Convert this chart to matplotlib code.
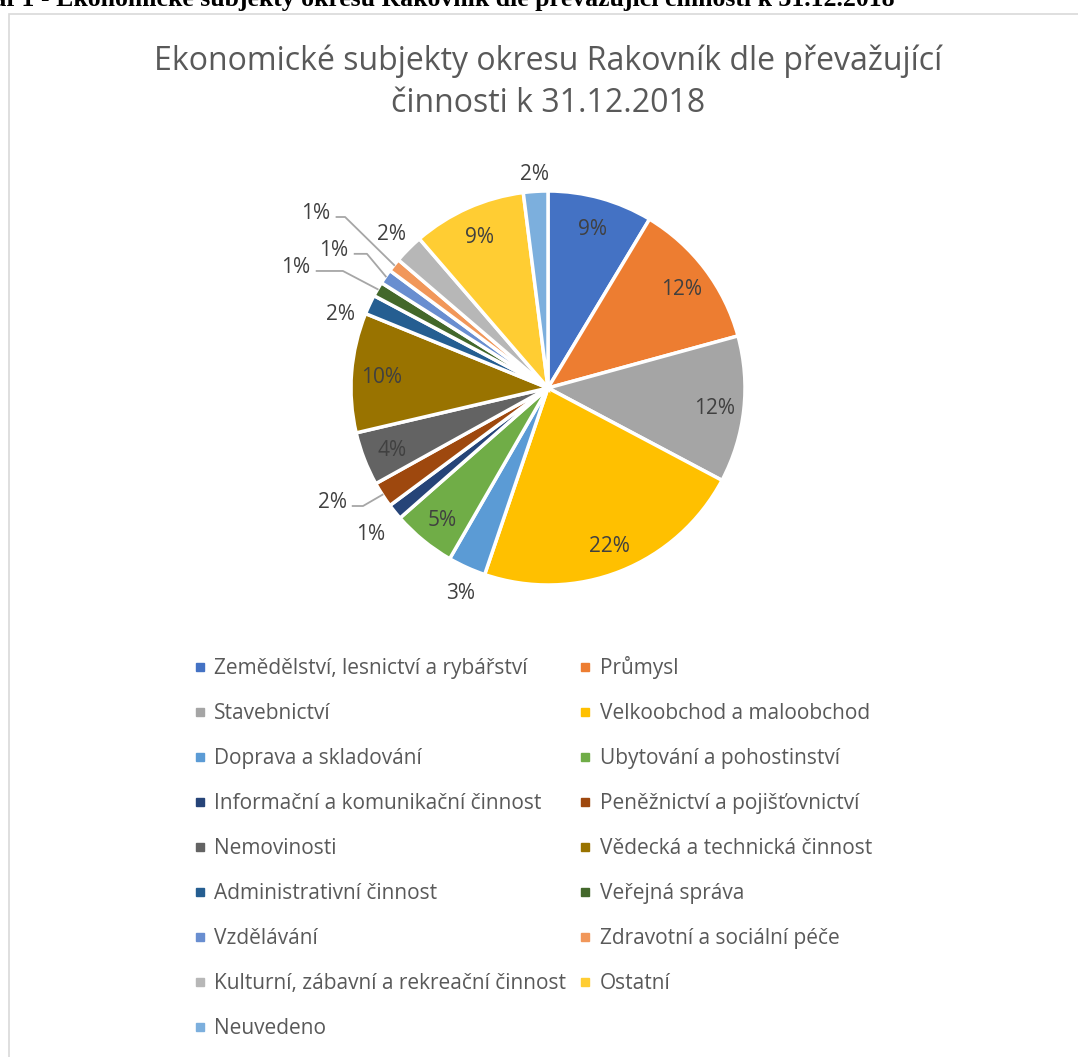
import matplotlib
matplotlib.use("Agg")
import matplotlib.pyplot as plt
from matplotlib.patches import Rectangle
from matplotlib.lines import Line2D
import numpy as np

W, H = 1078, 1057
DPI = 100

categories = [
    "Zemědělství, lesnictví a rybářství", "Průmysl", "Stavebnictví",
    "Velkoobchod a maloobchod", "Doprava a skladování", "Ubytování a pohostinství",
    "Informační a komunikační činnost", "Peněžnictví a pojišťovnictví", "Nemovinosti",
    "Vědecká a technická činnost", "Administrativní činnost", "Veřejná správa",
    "Vzdělávání", "Zdravotní a sociální péče", "Kulturní, zábavní a rekreační činnost",
    "Ostatní", "Neuvedeno",
]
shares = [8.6, 12.1, 12.0, 22.4, 3.1, 5.2, 1.3, 2.1, 4.4, 9.8, 1.6, 1.2, 1.2, 1.1, 2.4, 9.3, 2.0]
colors = ["#4472C4", "#ED7D31", "#A5A5A5", "#FFC000", "#5B9BD5", "#70AD47",
          "#264478", "#9E480E", "#636363", "#997300", "#255E91", "#43682B",
          "#698ED0", "#F1975A", "#B7B7B7", "#FFCD33", "#7CAFDD"]

title = "Ekonomické subjekty okresu Rakovník dle převažující\nčinnosti k 31.12.2018"
caption = "Graf 1 - Ekonomické subjekty okresu Rakovník dle převažující činnosti k 31.12.2018"

# label placement: 'in' (inside), 'out' (outside radius), or leader (text pos, elbow x)
label_mode = ["in", "in", "in", "in", "out", "in", "out", "lead", "in", "in",
              "out", "lead", "lead", "lead", "out", "in", "out"]
out_radius = {4: 1.12, 6: 1.16, 10: 1.12, 14: 1.12, 16: 1.10}
out_shift = {10: 5.0, 4: 1.0}  # degrees
leaders = {
    7: ((-1.096, -0.569), -0.939),
    11: ((-1.279, 0.624), -1.041),
    12: ((-1.086, 0.711), -0.919),
    13: ((-1.178, 0.898), -1.030),
}

cx, cy, R = 548, 388, 197  # pixel centre / radius of the pie

fig = plt.figure(figsize=(W / DPI, H / DPI), dpi=DPI)
ax = fig.add_axes([0, 0, 1, 1])

wedges, _ = ax.pie(shares, colors=colors, startangle=90, counterclock=False,
                   radius=1.0, center=(0, 0),
                   wedgeprops=dict(edgecolor="white", linewidth=2.5))
ax.set_xlim(-cx / R, (W - cx) / R)
ax.set_ylim(-(H - cy) / R, cy / R)
ax.set_aspect("equal")
ax.axis("off")

label_color = "#404040"
lfs = 15
for i, w in enumerate(wedges):
    mid = (w.theta1 + w.theta2) / 2
    txt = f"{shares[i]:.0f}%"
    mode = label_mode[i]
    if mode in ("in", "out"):
        r = 0.85 if mode == "in" else out_radius[i]
        a = np.deg2rad(mid + out_shift.get(i, 0.0))
        ax.text(r * np.cos(a), r * np.sin(a), txt, ha="center", va="center_baseline",
                fontsize=lfs, color=label_color, family="Open Sans")
    else:
        (tx, ty), ex = leaders[i]
        a = np.deg2rad(mid)
        ax.text(tx, ty, txt, ha="center", va="center_baseline", fontsize=lfs,
                color=label_color, family="Open Sans")
        ly = ty - 0.03
        px, py = 0.995 * np.cos(a), 0.995 * np.sin(a)
        ax.plot([tx + 0.1, ex, px], [ly, ly, py], color="#A6A6A6", lw=1.3,
                solid_capstyle="butt")

fig.text(cx / W, 1 - 112 / H, title, ha="center", va="baseline", fontsize=23,
         color="#595959", family="Open Sans", linespacing=1.35)

# legend, row-major order in two columns
handles = [Line2D([], [], marker="s", linestyle="none", markersize=5.8,
                  markerfacecolor=c, markeredgecolor=c) for c in colors]
order = list(range(0, len(categories), 2)) + list(range(1, len(categories), 2))
leg = fig.legend([handles[k] for k in order], [categories[k] for k in order],
                 ncol=2, loc="upper left", bbox_to_anchor=(183 / W, 1 - 646 / H),
                 frameon=False, labelspacing=1.15, handlelength=0.6,
                 handletextpad=0.4, columnspacing=0.6, borderpad=0,
                 prop=dict(family="Open Sans", size=15))
for t in leg.get_texts():
    t.set_color("#595959")

# chart area border
fig.add_artist(Rectangle((9 / W, -0.05), 1.2, 1 - 14 / H + 0.05,
                         transform=fig.transFigure, fill=False,
                         edgecolor="#D9D9D9", lw=1.2))

fig.text(895 / W, 1 - 6 / H, caption, ha="right", va="baseline",
         fontsize=18.5, fontweight="bold", family="Liberation Serif", color="black")

fig.savefig("out.png", dpi=DPI, facecolor="white")
